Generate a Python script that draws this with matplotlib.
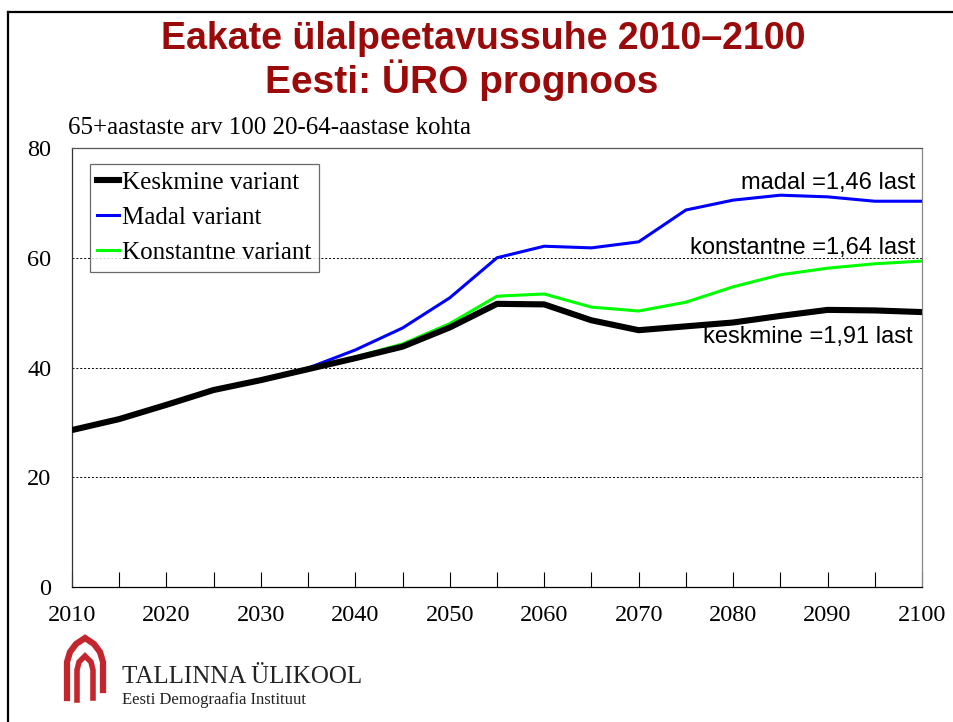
import matplotlib
matplotlib.use('Agg')
import matplotlib.pyplot as plt
from matplotlib import font_manager
from matplotlib.lines import Line2D

# ÜRO prognoos, eakate ülalpeetavussuhe (65+ / 100 20-64-aastast)
years = list(range(2010, 2101, 5))
keskmine = [28.6, 30.6, 33.2, 35.9, 37.7, 39.7, 41.7, 43.8, 47.3, 51.6, 51.5,
            48.6, 46.8, 47.5, 48.2, 49.4, 50.5, 50.4, 50.1]
madal = [28.6, 30.6, 33.2, 35.9, 37.7, 39.9, 43.2, 47.2, 52.7, 60.0, 62.1,
         61.8, 62.9, 68.7, 70.5, 71.4, 71.1, 70.3, 70.3]
konstantne = [28.6, 30.6, 33.2, 35.9, 37.7, 39.7, 41.9, 44.3, 48.0, 53.0, 53.4,
              51.0, 50.3, 51.9, 54.7, 56.9, 58.1, 58.9, 59.4]

series_labels = ['Keskmine variant', 'Madal variant', 'Konstantne variant']
note_madal = 'madal =1,46 last'
note_konst = 'konstantne =1,64 last'
note_kesk = 'keskmine =1,91 last'
x_ticks = list(range(2010, 2101, 10))
x_minor = list(range(2015, 2100, 10))
y_ticks = [0, 20, 40, 60, 80]

W, H = 954, 722
SERIF = 'Liberation Serif'
installed = {f.name for f in font_manager.fontManager.ttflist}
if 'Liberation Sans Narrow' in installed:
    title_family, title_size = 'Liberation Sans Narrow', 31
else:
    title_family, title_size = 'Liberation Sans', 27
TITLE_RED = '#9a0a0a'


def fx(px):
    return px / W


def fy(py):
    return 1 - py / H


fig = plt.figure(figsize=(W / 100, H / 100), dpi=100)
fig.patch.set_facecolor('white')

# slide frame
fig.add_artist(Line2D([fx(8), fx(8)], [fy(12), fy(722)], color='black', lw=1.6))
fig.add_artist(Line2D([fx(8), fx(954)], [fy(12), fy(12)], color='black', lw=1.6))

# titles
fig.text(fx(483), fy(39), 'Eakate ülalpeetavussuhe 2010–2100', ha='center', va='center',
         fontsize=title_size, fontweight='bold', color=TITLE_RED, family=title_family)
fig.text(fx(462), fy(80), 'Eesti: ÜRO prognoos', ha='center', va='center',
         fontsize=title_size + 1, fontweight='bold', color=TITLE_RED, family=title_family)
fig.text(fx(68), fy(128), '65+aastaste arv 100 20-64-aastase kohta', ha='left', va='center',
         fontsize=18, family=SERIF)

ax = fig.add_axes([fx(72), fy(587), fx(922) - fx(72), fy(148) - fy(587)])
ax.plot(years, madal, color='#0000ff', lw=2.2, zorder=3, solid_joinstyle='round')
ax.plot(years, konstantne, color='#00ff00', lw=2.2, zorder=3, solid_joinstyle='round')
ax.plot(years, keskmine, color='black', lw=4.4, zorder=4, solid_joinstyle='round')

ax.set_xlim(2010, 2100)
ax.set_ylim(0, 80)
ax.set_xticks(x_ticks)
ax.set_xticks(x_minor, minor=True)
ax.set_yticks(y_ticks)
ax.tick_params(axis='x', which='both', direction='in', length=11, width=0.8,
               pad=13, labelsize=17.5)
ax.tick_params(axis='y', length=0, pad=15, labelsize=17.5)
for lab in ax.get_xticklabels() + ax.get_yticklabels():
    lab.set_family(SERIF)

for v in y_ticks[1:-1]:
    ax.axhline(v, color='black', lw=0.7, ls=(0, (2, 2)), zorder=1)

ax.spines['left'].set_color('#333333')
ax.spines['bottom'].set_color('black')
ax.spines['top'].set_color('#555555')
ax.spines['right'].set_color('#888888')
for s in ax.spines.values():
    s.set_linewidth(0.9)

handles = [Line2D([], [], color='black', lw=4.4),
           Line2D([], [], color='#0000ff', lw=2.2),
           Line2D([], [], color='#00ff00', lw=2.2)]
leg = ax.legend(handles, series_labels, loc='upper left',
                bbox_to_anchor=((90 - 72) / 850, (587 - 164) / 439),
                borderaxespad=0, frameon=True, fancybox=False, shadow=False,
                prop={'family': SERIF, 'size': 18}, handlelength=0.85,
                handletextpad=0.15, labelspacing=0.5, borderpad=0.3)
leg.get_frame().set_edgecolor('#444444')
leg.get_frame().set_linewidth(0.9)
leg.set_zorder(5)

ax.text(2099.3, 73.6, note_madal, ha='right', va='center', fontsize=17,
        family='Liberation Sans', zorder=6)
ax.text(2099.3, 61.8, note_konst, ha='right', va='center', fontsize=17,
        family='Liberation Sans', zorder=6)
ax.text(2099.0, 45.6, note_kesk, ha='right', va='center', fontsize=17,
        family='Liberation Sans', zorder=6)

# logo: nested pointed arches
logo_red = '#c4262e'
outer_x = [67, 67, 70, 76, 85, 94, 100, 103, 103]
outer_y = [698, 662, 652, 644, 638, 644, 652, 662, 690]
inner_x = [77, 77, 79, 85, 91, 93, 93]
inner_y = [700, 670, 662, 656, 662, 670, 698]
fig.add_artist(Line2D([fx(v) for v in outer_x], [fy(v) for v in outer_y],
                      color=logo_red, lw=4.5, solid_joinstyle='miter'))
fig.add_artist(Line2D([fx(v) for v in inner_x], [fy(v) for v in inner_y],
                      color=logo_red, lw=4.0, solid_joinstyle='miter'))
fig.text(fx(122), fy(677), 'TALLINNA ÜLIKOOL', ha='left', va='center',
         fontsize=18, family=SERIF, color='#222222')
fig.text(fx(122), fy(700), 'Eesti Demograafia Instituut', ha='left', va='center',
         fontsize=12, family=SERIF, color='#222222')

fig.savefig('out.png', dpi=100, facecolor='white')
